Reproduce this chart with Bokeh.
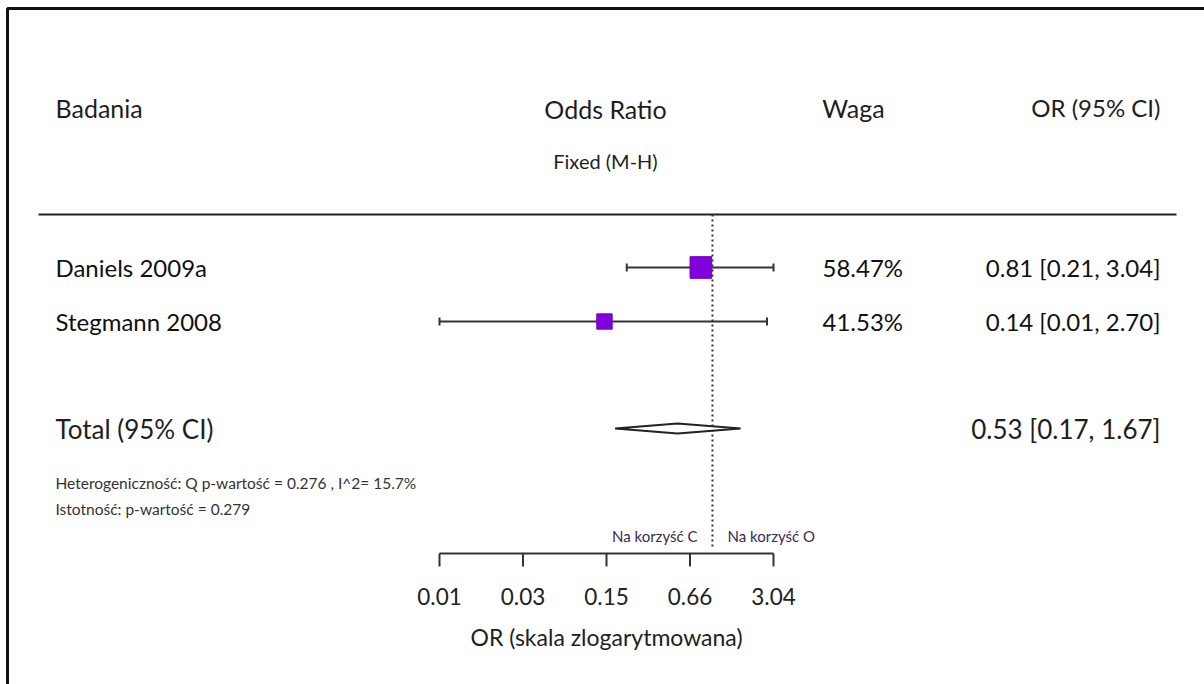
import numpy as np
from bokeh.plotting import figure
from bokeh.models import Range1d, LogScale
from bokeh.core.properties import value
from bokeh.embed import file_html
from bokeh.resources import INLINE

# ---- meta-analysis data ----
studies = ["Daniels 2009a", "Stegmann 2008"]
or_est = [0.81, 0.14]
ci_low = [0.21, 0.00694]
ci_high = [3.04, 2.70]
weights = [58.47, 41.53]

total_label = "Total (95% CI)"
total_or = 0.53
total_low = 0.17
total_high = 1.67

het_q_p = 0.276
het_i2 = 15.7
overall_p = 0.279

tick_labels = ["0.01", "0.03", "0.15", "0.66", "3.04"]

# ---- layout (pixels) ----
W, H = 1204, 684
FONT = value("Lato")
TXT = "#1e1e1e"
PLOT_L, PLOT_R = 439, 773
ROW_Y0, ROW_GAP = 267, 54
TOTAL_Y = 428
AXIS_Y = 553
COL_NAME, COL_W, COL_CI = 55, 822, 1160

lo = np.log(min(ci_low))
hi = np.log(max(ci_high))
k = (PLOT_R - PLOT_L) / (hi - lo)
or_range = Range1d(np.exp(lo - PLOT_L / k), np.exp(lo + (W - PLOT_L) / k))

p = figure(width=W, height=H, x_range=Range1d(0, W), y_range=Range1d(H, 0),
           output_backend="svg", toolbar_location=None, min_border=0)
p.extra_x_ranges = {"or": or_range}
p.extra_x_scales = {"or": LogScale()}
p.axis.visible = False
p.grid.visible = False
p.outline_line_color = None
p.background_fill_color = "white"
p.border_fill_color = "white"

# frame and header rule
p.line(x=[7, 7, W], y=[H, 8, 8], line_color="#111111", line_width=3)
p.segment(x0=[38], y0=[214], x1=[1176], y1=[214], line_color="#222222", line_width=2)

# headers
p.text(x=[COL_NAME], y=[107], text=["Badania"], text_font=FONT, text_font_size="25px",
       text_color=TXT, text_baseline="middle")
p.text(x=[605], y=[108], text=["Odds Ratio"], text_font=FONT, text_font_size="25px",
       text_color=TXT, text_baseline="middle", text_align="center")
p.text(x=[605], y=[160], text=["Fixed (M-H)"], text_font=FONT, text_font_size="20px",
       text_color=TXT, text_baseline="middle", text_align="center")
p.text(x=[853], y=[107], text=["Waga"], text_font=FONT, text_font_size="25px",
       text_color=TXT, text_baseline="middle", text_align="center")
p.text(x=[COL_CI], y=[107], text=["OR (95% CI)"], text_font=FONT, text_font_size="24px",
       text_color=TXT, text_baseline="middle", text_align="right")

# study rows
ys = [ROW_Y0 + i * ROW_GAP for i in range(len(studies))]
row_style = dict(text_font=FONT, text_font_size="24px", text_color="#111111",
                 text_baseline="middle")
p.text(x=[COL_NAME] * len(studies), y=ys, text=studies, **row_style)
p.text(x=[COL_W] * len(studies), y=ys, text=[f"{w:.2f}%" for w in weights], **row_style)
p.text(x=[COL_CI] * len(studies), y=ys,
       text=[f"{o:.2f} [{a:.2f}, {b:.2f}]" for o, a, b in zip(or_est, ci_low, ci_high)],
       text_align="right", **row_style)

# confidence intervals with end caps
p.segment(x0=ci_low, y0=ys, x1=ci_high, y1=ys, x_range_name="or",
          line_color="#333333", line_width=2)
cap = 4
p.segment(x0=ci_low + ci_high, y0=[y - cap for y in ys] * 2,
          x1=ci_low + ci_high, y1=[y + cap for y in ys] * 2,
          x_range_name="or", line_color="#333333", line_width=2)

# null line at OR = 1
p.segment(x0=[1], y0=[214], x1=[1], y1=[548], x_range_name="or",
          line_color="#333333", line_width=2, line_dash="2 3")

# weighted squares
p.scatter(x=or_est, y=ys, size=[w * 0.37 for w in weights], marker="square",
          x_range_name="or", fill_color="#8200dc", line_color="#7000c0")

# pooled estimate
p.text(x=[COL_NAME], y=[TOTAL_Y], text=[total_label], text_font=FONT, text_font_size="26px",
       text_color=TXT, text_baseline="middle")
p.text(x=[COL_CI], y=[TOTAL_Y], text=[f"{total_or:.2f} [{total_low:.2f}, {total_high:.2f}]"],
       text_font=FONT, text_font_size="26px", text_color=TXT, text_baseline="middle",
       text_align="right")
p.patch(x=[total_low, total_or, total_high, total_or],
        y=[TOTAL_Y, TOTAL_Y - 5, TOTAL_Y, TOTAL_Y + 5], x_range_name="or",
        fill_color="white", line_color="#222222", line_width=2)

# test statistics
stat_style = dict(text_font=FONT, text_font_size="15.5px", text_color="#333333",
                  text_baseline="middle")
p.text(x=[COL_NAME], y=[482],
       text=[f"Heterogeniczność: Q p-wartość = {het_q_p:.3f} , I^2= {het_i2:.1f}%"],
       **stat_style)
p.text(x=[COL_NAME], y=[508], text=[f"Istotność: p-wartość = {overall_p:.3f}"], **stat_style)

# favour labels either side of the null line
fav_style = dict(text_font=FONT, text_font_size="15px", text_color="#3a2a50",
                 text_baseline="middle")
p.text(x=[697], y=[535], text=["Na korzyść C"], text_align="right", **fav_style)
p.text(x=[727], y=[535], text=["Na korzyść O"], text_align="left", **fav_style)

# log-scaled axis
ticks = list(np.exp(np.linspace(lo, hi, len(tick_labels))))
p.segment(x0=[ticks[0]], y0=[AXIS_Y], x1=[ticks[-1]], y1=[AXIS_Y], x_range_name="or",
          line_color="#333333", line_width=2)
p.segment(x0=ticks, y0=[AXIS_Y] * len(ticks), x1=ticks, y1=[AXIS_Y + 13] * len(ticks),
          x_range_name="or", line_color="#333333", line_width=2)
p.text(x=ticks, y=[596] * len(ticks), text=tick_labels, x_range_name="or", text_font=FONT,
       text_font_size="22.5px", text_color="#222222", text_baseline="middle",
       text_align="center")
p.text(x=[606], y=[636], text=["OR (skala zlogarytmowana)"], text_font=FONT,
       text_font_size="23px", text_color="#222222", text_baseline="middle", text_align="center")

open("out.html", "w").write(file_html(p, INLINE))
